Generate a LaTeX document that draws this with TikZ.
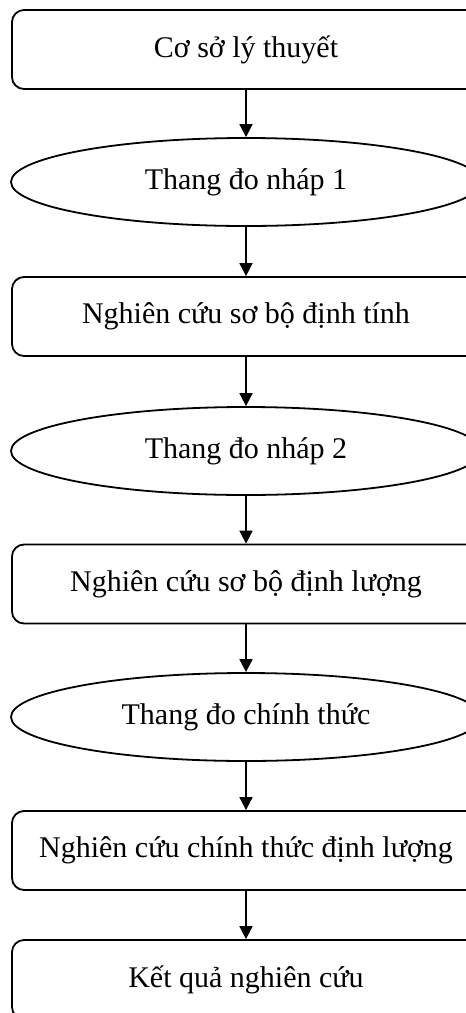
\documentclass[tikz,border=0pt]{standalone}
\usepackage{fontspec}
\setmainfont{Liberation Serif}
\usetikzlibrary{shapes.geometric,arrows.meta}
\begin{document}
\begin{tikzpicture}[x=1pt,y=1pt,
  base/.style={draw=black,line width=1.8pt,inner sep=0pt,font=\fontsize{30}{36}\selectfont,text=black},
  boxnode/.style={base,rectangle,rounded corners=12pt,minimum width=468pt,minimum height=79pt},
  ellnode/.style={base,ellipse,minimum width=470pt,minimum height=88pt},
  arr/.style={draw=black,line width=1.8pt,-{Triangle[width=13pt,length=13pt]}}]
\useasboundingbox (0,0) rectangle (466,-1013);
\node[boxnode] (b1) at (246,-49.5) {Cơ sở lý thuyết};
\node[ellnode] (e1) at (246,-182) {Thang đo nháp 1};
\node[boxnode] (b2) at (246,-316.5) {Nghiên cứu sơ bộ định tính};
\node[ellnode] (e2) at (246,-451) {Thang đo nháp 2};
\node[boxnode] (b3) at (246,-584) {Nghiên cứu sơ bộ định lượng};
\node[ellnode] (e3) at (246,-717) {Thang đo chính thức};
\node[boxnode] (b4) at (246,-850.5) {Nghiên cứu chính thức định lượng};
\node[boxnode] (b5) at (246,-979.5) {Kết quả nghiên cứu};
\draw[arr] (b1) -- (e1);
\draw[arr] (e1) -- (b2);
\draw[arr] (b2) -- (e2);
\draw[arr] (e2) -- (b3);
\draw[arr] (b3) -- (e3);
\draw[arr] (e3) -- (b4);
\draw[arr] (b4) -- (b5);
\end{tikzpicture}
\end{document}
